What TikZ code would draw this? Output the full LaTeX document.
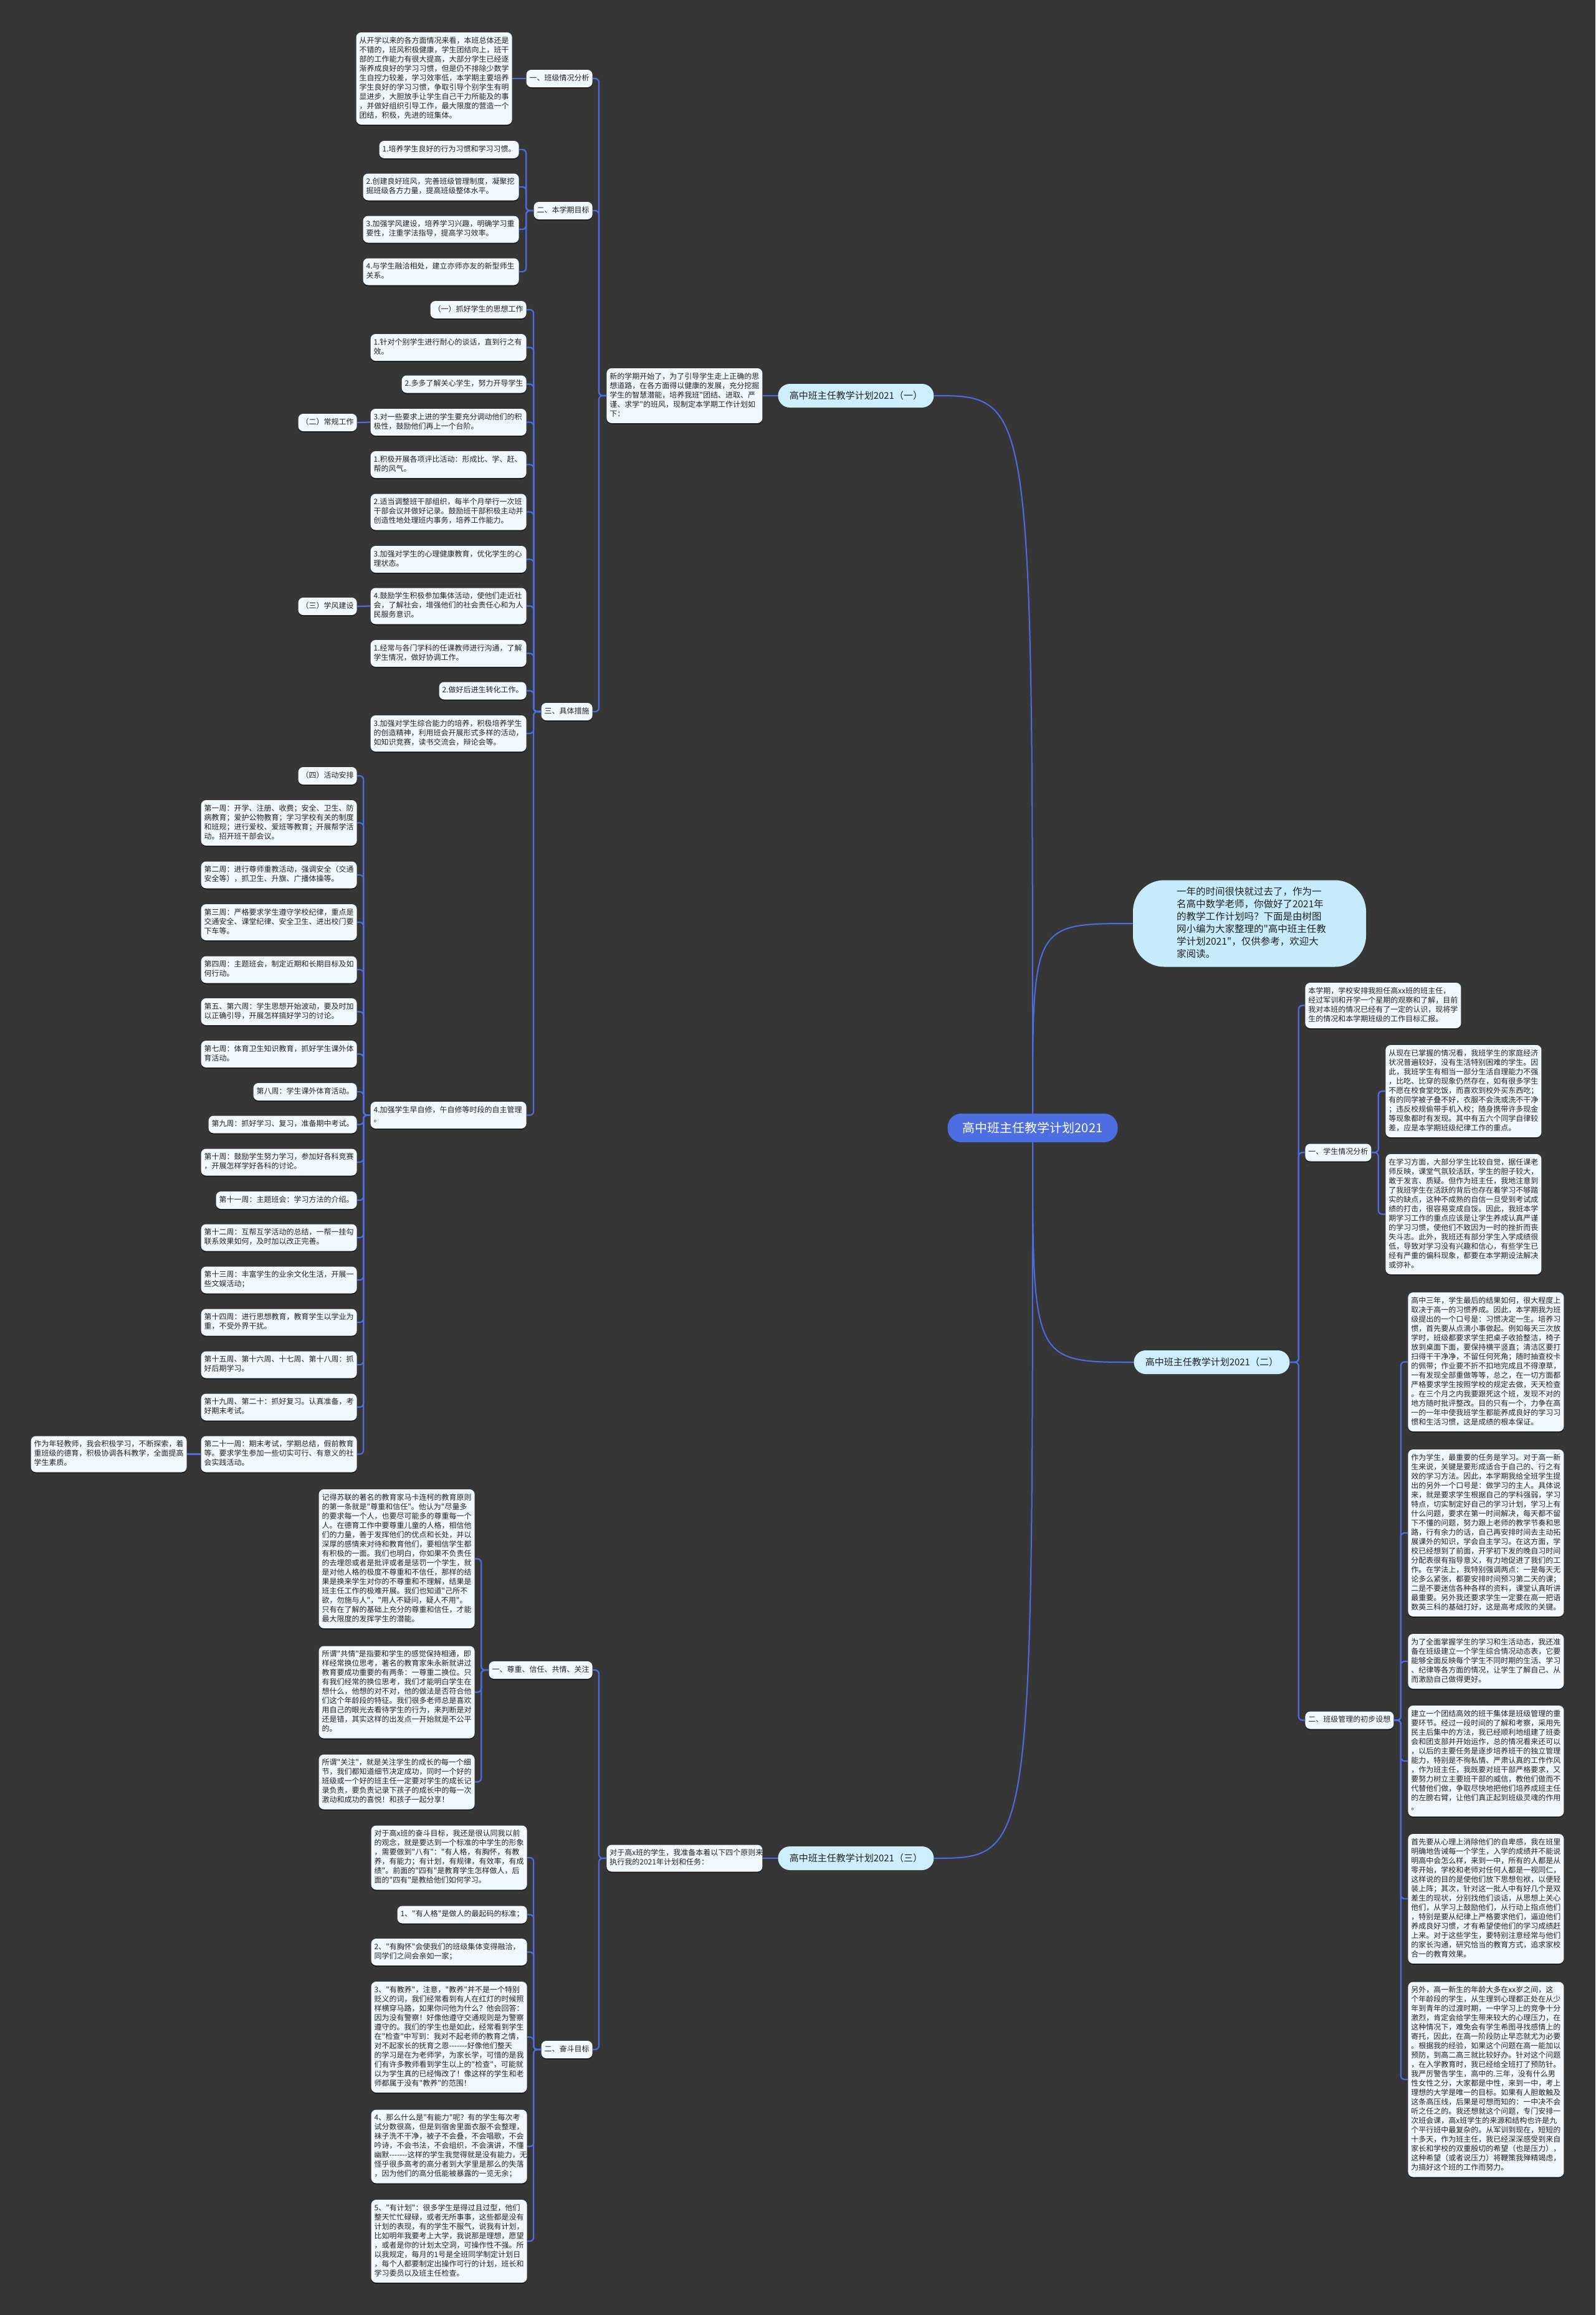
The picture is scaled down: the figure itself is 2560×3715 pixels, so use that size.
\documentclass[tikz,border=0pt]{standalone}
\usepackage{fontspec}
\newfontfamily\cjk{Noto Sans CJK SC}
\usetikzlibrary{shadows}
\definecolor{bgc}{RGB}{54,54,54}
\definecolor{linec}{RGB}{78,108,226}
\definecolor{boxc}{RGB}{240,250,254}
\definecolor{lvc}{RGB}{205,238,253}
\definecolor{introc}{RGB}{198,236,252}
\definecolor{rootc}{RGB}{76,110,224}
\definecolor{txtc}{RGB}{34,34,34}
\tikzset{
 base/.style={font=\cjk\fontsize{6}{7.5}\selectfont, text=txtc, fill=boxc, rounded corners=4pt,
   inner xsep=2.5pt, inner ysep=3.25pt, execute at begin node=\strut, execute at end node=\strut,
   drop shadow={shadow xshift=0pt, shadow yshift=-0.9pt, opacity=0.55, fill=black}},
 wbox/.style={base, text width=120pt, align=left},
 lbl/.style={base},
 lvone/.style={font=\cjk\fontsize{7.5}{9}\selectfont, text=txtc, fill=lvc, rounded corners=9.5pt,
   minimum height=19pt, minimum width=125pt, inner xsep=6pt},
 rootbox/.style={font=\cjk\fontsize{10}{12}\selectfont, text=white, fill=rootc, rounded corners=11pt,
   minimum height=23pt, minimum width=136.5pt},
 introbox/.style={font=\cjk\fontsize{7.75}{10}\selectfont, text=txtc, fill=introc, rounded corners=25pt,
   text width=117pt, align=left, inner xsep=35pt, inner ysep=4.75pt,
   execute at begin node=\strut, execute at end node=\strut},
 conn/.style={draw=linec, line width=1.1pt, rounded corners=3pt},
 curv/.style={draw=linec, line width=1pt},
}
\begin{document}
\begin{tikzpicture}[x=0.5pt,y=-0.5pt]
\useasboundingbox (0,0) rectangle (2560,3715);
\fill[bgc] (0,0) rectangle (2560,3715);

% ---------- root and level one ----------
\node[rootbox] (root) at (1657,1810) {高中班主任教学计划2021};
\node[introbox] (intro) at (2005,1482) {一年的时间很快就过去了，作为一\\名高中数学老师，你做好了2021年\\的教学工作计划吗？下面是由树图\\网小编为大家整理的"高中班主任教\\学计划2021"，仅供参考，欢迎大\\家阅读。};
\node[lvone, anchor=west] (c1) at (1248,635) {高中班主任教学计划2021（一）};
\node[lvone, anchor=west] (c2) at (1819,2186) {高中班主任教学计划2021（二）};
\node[lvone, anchor=west] (c3) at (1248,2982) {高中班主任教学计划2021（三）};

% ---------- part one ----------
\node[wbox, anchor=west] (L1) at (973,635) {新的学期开始了，为了引导学生走上正确的思\\想道路，在各方面得以健康的发展，充分挖掘\\学生的智慧潜能，培养我班"团结、进取、严\\谨、求学"的班风，现制定本学期工作计划如\\下：};
\node[lbl, anchor=east] (s1) at (951,126) {一、班级情况分析};
\node[lbl, anchor=east] (s2) at (951,338) {二、本学期目标};
\node[lbl, anchor=east] (s3) at (951,1142) {三、具体措施};
\node[wbox, anchor=east] (t1) at (822,126) {从开学以来的各方面情况来看，本班总体还是\\不错的，班风积极健康，学生团结向上，班干\\部的工作能力有很大提高，大部分学生已经逐\\渐养成良好的学习习惯，但是仍不排除少数学\\生自控力较差，学习效率低，本学期主要培养\\学生良好的学习习惯，争取引导个别学生有明\\显进步，大胆放手让学生自己干力所能及的事\\，并做好组织引导工作，最大限度的营造一个\\团结，积极，先进的班集体。};
\node[lbl, anchor=east] (g1) at (833,240) {1.培养学生良好的行为习惯和学习习惯。};
\node[wbox, anchor=east] (g2) at (833,300) {2.创建良好班风，完善班级管理制度，凝聚挖\\掘班级各方力量，提高班级整体水平。};
\node[wbox, anchor=east] (g3) at (833,368) {3.加强学风建设，培养学习兴趣，明确学习重\\要性，注重学法指导，提高学习效率。};
\node[wbox, anchor=east] (g4) at (833,436) {4.与学生融洽相处，建立亦师亦友的新型师生\\关系。};

\node[lbl, anchor=east] (m0) at (845,497) {（一）抓好学生的思想工作};
\node[wbox, anchor=east] (m1) at (845,557.5) {1.针对个别学生进行耐心的谈话，直到行之有\\效。};
\node[lbl, anchor=east] (m2) at (845,616.5) {2.多多了解关心学生，努力开导学生};
\node[wbox, anchor=east] (m3) at (845,677.5) {3.对一些要求上进的学生要充分调动他们的积\\极性，鼓励他们再上一个台阶。};
\node[wbox, anchor=east] (m4) at (845,745.5) {1.积极开展各项评比活动：形成比、学、赶、\\帮的风气。};
\node[wbox, anchor=east] (m5) at (845,821.5) {2.适当调整班干部组织，每半个月举行一次班\\干部会议并做好记录。鼓励班干部积极主动并\\创造性地处理班内事务，培养工作能力。};
\node[wbox, anchor=east] (m6) at (845,897.5) {3.加强对学生的心理健康教育，优化学生的心\\理状态。};
\node[wbox, anchor=east] (m7) at (845,972.5) {4.鼓励学生积极参加集体活动，使他们走近社\\会，了解社会，增强他们的社会责任心和为人\\民服务意识。};
\node[wbox, anchor=east] (m8) at (845,1048.5) {1.经常与各门学科的任课教师进行沟通，了解\\学生情况，做好协调工作。};
\node[lbl, anchor=east] (m9) at (845,1108.5) {2.做好后进生转化工作。};
\node[wbox, anchor=east] (m10) at (845,1177) {3.加强对学生综合能力的培养，积极培养学生\\的创造精神，利用班会开展形式多样的活动，\\如知识竞赛，读书交流会，辩论会等。};
\node[wbox, anchor=east] (m11) at (845,1789.5) {4.加强学生早自修，午自修等时段的自主管理\\。};

\node[lbl, anchor=east] (k2) at (573,678) {（二）常规工作};
\node[lbl, anchor=east] (k3) at (573,973) {（三）学风建设};
\node[lbl, anchor=east] (k4) at (573,1245) {（四）活动安排};

\node[wbox, anchor=east] (w1) at (573,1320.5) {第一周：开学、注册、收费；安全、卫生、防\\病教育；爱护公物教育；学习学校有关的制度\\和班规；进行爱校、爱班等教育；开展帮学活\\动。招开班干部会议。};
\node[wbox, anchor=east] (w2) at (573,1404) {第二周：进行尊师重教活动，强调安全（交通\\安全等），抓卫生、升旗、广播体操等。};
\node[wbox, anchor=east] (w3) at (573,1480) {第三周：严格要求学生遵守学校纪律，重点是\\交通安全、课堂纪律、安全卫生、进出校门要\\下车等。};
\node[wbox, anchor=east] (w4) at (573,1556) {第四周：主题班会，制定近期和长期目标及如\\何行动。};
\node[wbox, anchor=east] (w5) at (573,1623.5) {第五、第六周：学生思想开始波动，要及时加\\以正确引导，开展怎样搞好学习的讨论。};
\node[wbox, anchor=east] (w6) at (573,1691.5) {第七周：体育卫生知识教育，抓好学生课外体\\育活动。};
\node[lbl, anchor=east] (w7) at (573,1752) {第八周：学生课外体育活动。};
\node[lbl, anchor=east] (w8) at (573,1804.5) {第九周：抓好学习、复习，准备期中考试。};
\node[wbox, anchor=east] (w9) at (573,1865) {第十周：鼓励学生努力学习，参加好各科竞赛\\，开展怎样学好各科的讨论。};
\node[lbl, anchor=east] (w10) at (573,1926) {第十一周：主题班会：学习方法的介绍。};
\node[wbox, anchor=east] (w11) at (573,1986) {第十二周：互帮互学活动的总结，一帮一挂勾\\联系效果如何，及时加以改正完善。};
\node[wbox, anchor=east] (w12) at (573,2054) {第十三周：丰富学生的业余文化生活，开展一\\些文娱活动；};
\node[wbox, anchor=east] (w13) at (573,2122) {第十四周：进行思想教育，教育学生以学业为\\重，不受外界干扰。};
\node[wbox, anchor=east] (w14) at (573,2190) {第十五周、第十六周、十七周、第十八周：抓\\好后期学习。};
\node[wbox, anchor=east] (w15) at (573,2258) {第十九周、第二十：抓好复习。认真准备，考\\好期末考试。};
\node[wbox, anchor=east] (w16) at (573,2333.5) {第二十一周：期末考试，学期总结，假前教育\\等。要求学生参加一些切实可行、有意义的社\\会实践活动。};
\node[wbox, anchor=east] (yt) at (300,2333.5) {作为年轻教师，我会积极学习，不断探索，着\\重班级的德育，积极协调各科教学，全面提高\\学生素质。};

% ---------- part three ----------
\node[wbox, anchor=west] (L3) at (973,2982) {对于高x班的学生，我准备本着以下四个原则来\\执行我的2021年计划和任务：};
\node[lbl, anchor=east] (r1) at (951,2680) {一、尊重、信任、共情、关注};
\node[lbl, anchor=east] (r2) at (951,3289) {二、奋斗目标};
\node[wbox, anchor=east] (p1) at (762,2501.5) {记得苏联的著名的教育家马卡连柯的教育原则\\的第一条就是"尊重和信任"。他认为"尽量多\\的要求每一个人，也要尽可能多的尊重每一个\\人。在德育工作中要尊重儿童的人格，相信他\\们的力量，善于发挥他们的优点和长处，并以\\深厚的感情来对待和教育他们，要相信学生都\\有积极的一面。我们也明白，你如果不负责任\\的去埋怨或者是批评或者是惩罚一个学生，就\\是对他人格的极度不尊重和不信任，那样的结\\果是换来学生对你的不尊重和不理解，结果是\\班主任工作的极难开展。我们也知道"己所不\\欲，勿施与人"，"用人不疑问，疑人不用"。\\只有在了解的基础上充分的尊重和信任，才能\\最大限度的发挥学生的潜能。};
\node[wbox, anchor=east] (p2) at (762,2715.5) {所谓"共情"是指要和学生的感觉保持相通，即\\样经常换位思考，著名的教育家朱永新就讲过\\教育要成功重要的有两条：一尊重二换位。只\\有我们经常的换位思考，我们才能明白学生在\\想什么，他想的对不对，他的做法是否符合他\\们这个年龄段的特征。我们很多老师总是喜欢\\用自己的眼光去看待学生的行为，来判断是对\\还是错，其实这样的出发点一开始就是不公平\\的。};
\node[wbox, anchor=east] (p3) at (762,2859.5) {所谓"关注"，就是关注学生的成长的每一个细\\节，我们都知道细节决定成功，同时一个好的\\班级或一个好的班主任一定要对学生的成长记\\录负责，要负责记录下孩子的成长中的每一次\\激动和成功的喜悦！和孩子一起分享！};
\node[wbox, anchor=east] (q0) at (846,2981) {对于高x班的奋斗目标，我还是很认同我以前\\的观念，就是要达到一个标准的中学生的形象\\，需要做到"八有"："有人格，有胸怀，有教\\养，有能力；有计划，有规律，有效率，有成\\绩"。前面的"四有"是教育学生怎样做人，后\\面的"四有"是教给他们如何学习。};
\node[lbl, anchor=east] (q1) at (846,3072.5) {1、"有人格"是做人的最起码的标准；};
\node[wbox, anchor=east] (q2) at (846,3132.5) {2、"有胸怀"会使我们的班级集体变得融洽，\\同学们之间会亲如一家；};
\node[wbox, anchor=east] (q3) at (846,3269) {3、"有教养"，注意，"教养"并不是一个特别\\贬义的词，我们经常看到有人在红灯的时候照\\样横穿马路，如果你问他为什么？他会回答：\\因为没有警察！好像他遵守交通规则是为警察\\遵守的。我们的学生也是如此，经常看到学生\\在"检查"中写到：我对不起老师的教育之情，\\\mbox{对不起家长的抚育之恩-------好像他们整天}\\的学习是在为老师学，为家长学，可惜的是我\\们有许多教师看到学生以上的"检查"，可能就\\以为学生真的已经悔改了！像这样的学生和老\\师都属于没有"教养"的范围！};
\node[wbox, anchor=east] (q4) at (846,3444.5) {4、那么什么是"有能力"呢？有的学生每次考\\试分数很高，但是到宿舍里面衣服不会整理，\\袜子洗不干净，被子不会叠，不会唱歌，不会\\吟诗，不会书法，不会组织，不会演讲，不懂\\\mbox{幽默-------这样的学生我觉得就是没有能力，无}\\怪乎很多高考的高分者到大学里是那么的失落\\，因为他们的高分低能被暴露的一览无余；};
\node[wbox, anchor=east] (q5) at (846,3596.5) {5、"有计划"：很多学生是得过且过型，他们\\整天忙忙碌碌，或者无所事事，这些都是没有\\计划的表现，有的学生不服气，说我有计划，\\比如明年我要考上大学，我说那是理想，愿望\\，或者是你的计划太空洞，可操作性不强。所\\以我规定，每月的1号是全班同学制定计划日\\，每个人都要制定出操作可行的计划，班长和\\学习委员以及班主任检查。};

% ---------- part two (right) ----------
\node[wbox, anchor=west] (n0) at (2094,1613.5) {本学期，学校安排我担任高xx班的班主任，\\经过军训和开学一个星期的观察和了解，目前\\我对本班的情况已经有了一定的认识，现将学\\生的情况和本学期班级的工作目标汇报。};
\node[lbl, anchor=west] (n1) at (2094,1849.5) {一、学生情况分析};
\node[lbl, anchor=west] (n2) at (2094,2760.5) {二、班级管理的初步设想};
\node[wbox, anchor=west] (a1) at (2223,1751) {从现在已掌握的情况看，我班学生的家庭经济\\状况普遍较好，没有生活特别困难的学生。因\\此，我班学生有相当一部分生活自理能力不强\\，比吃、比穿的现象仍然存在，如有很多学生\\不愿在校食堂吃饭，而喜欢到校外买东西吃；\\有的同学被子叠不好，衣服不会洗或洗不干净\\；违反校规偷带手机入校；随身携带许多现金\\等现象都时有发现。其中有五六个同学自律较\\差，应是本学期班级纪律工作的重点。};
\node[wbox, anchor=west] (a2) at (2223,1948.5) {在学习方面，大部分学生比较自觉，据任课老\\师反映，课堂气氛较活跃，学生的胆子较大，\\敢于发言、质疑。但作为班主任，我地注意到\\了我班学生在活跃的背后也存在着学习不够踏\\实的缺点，这种不成熟的自信一旦受到考试成\\绩的打击，很容易变成自馁。因此，我班本学\\期学习工作的重点应该是让学生养成认真严谨\\的学习习惯，使他们不致因为一时的挫折而丧\\失斗志。此外，我班还有部分学生入学成绩很\\低，导致对学习没有兴趣和信心，有些学生已\\经有严重的偏科现象，都要在本学期设法解决\\或弥补。};
\node[wbox, anchor=west] (b1) at (2259,2185.5) {高中三年，学生最后的结果如何，很大程度上\\取决于高一的习惯养成。因此，本学期我为班\\级提出的一个口号是：习惯决定一生。培养习\\惯，首先要从点滴小事做起。例如每天三次放\\学时，班级都要求学生把桌子收拾整洁，椅子\\放到桌面下面，要保持横平竖直；清洁区要打\\扫得干干净净，不留任何死角；随时抽查校卡\\的佩带；作业要不折不扣地完成且不得潦草，\\一有发现全部重做等等，总之，在一切方面都\\严格要求学生按照学校的规定去做，天天检查\\。在三个月之内我要跟死这个班，发现不对的\\地方随时批评整改。目的只有一个，力争在高\\一的一年中使我班学生都能养成良好的学习习\\惯和生活习惯，这是成绩的根本保证。};
\node[wbox, anchor=west] (b2) at (2259,2460) {作为学生，最重要的任务是学习。对于高一新\\生来说，关键是要形成适合于自己的、行之有\\效的学习方法。因此，本学期我给全班学生提\\出的另外一个口号是：做学习的主人。具体说\\来，就是要求学生根据自己的学科强弱，学习\\特点，切实制定好自己的学习计划，学习上有\\什么问题，要求在第一时间解决，每天都不留\\下不懂的问题，努力跟上老师的教学节奏和思\\路，行有余力的话，自己再安排时间去主动拓\\展课外的知识，学会自主学习。在这方面，学\\校已经想到了前面，开学初下发的晚自习时间\\分配表很有指导意义，有力地促进了我们的工\\作。在学法上，我特别强调两点：一是每天无\\论多么紧张，都要安排时间预习第二天的课；\\二是不要迷信各种各样的资料，课堂认真听讲\\最重要。另外我还要求学生一定要在高一把语\\数英三科的基础打好，这是高考成败的关键。};
\node[wbox, anchor=west] (b3) at (2259,2666) {为了全面掌握学生的学习和生活动态，我还准\\备在班级建立一个学生综合情况动态表，它要\\能够全面反映每个学生不同时期的生活、学习\\、纪律等各方面的情况，让学生了解自己、从\\而激励自己做得更好。};
\node[wbox, anchor=west] (b4) at (2259,2826) {建立一个团结高效的班干集体是班级管理的重\\要环节。经过一段时间的了解和考察，采用先\\民主后集中的方法，我已经顺利地组建了班委\\会和团支部并开始运作，总的情况看来还可以\\，以后的主要任务是逐步培养班干的独立管理\\能力，特别是不徇私情、严肃认真的工作作风\\，作为班主任，我既要对班干部严格要求，又\\要努力树立主要班干部的威信，教他们做而不\\代替他们做，争取尽快地把他们培养成班主任\\的左膀右臂，让他们真正起到班级灵魂的作用\\。};
\node[wbox, anchor=west] (b5) at (2259,3047) {首先要从心理上消除他们的自卑感，我在班里\\明确地告诫每一个学生，入学的成绩并不能说\\明高中会怎么样，来到一中，所有的人都是从\\零开始，学校和老师对任何人都是一视同仁，\\这样说的目的是使他们放下思想包袱，以便轻\\装上阵；其次，针对这一批人中有好几个是双\\差生的现状，分别找他们谈话，从思想上关心\\他们，从学习上鼓励他们，从行动上指点他们\\，特别是要从纪律上严格要求他们，逼迫他们\\养成良好习惯，才有希望使他们的学习成绩赶\\上来。对于这些学生，要特别注意经常与他们\\的家长沟通，研究恰当的教育方式，追求家校\\合一的教育效果。};
\node[wbox, anchor=west] (b6) at (2259,3337) {另外，高一新生的年龄大多在xx岁之间，这\\个年龄段的学生，从生理到心理都正处在从少\\年到青年的过渡时期，一中学习上的竞争十分\\激烈，肯定会给学生带来较大的心理压力，在\\这种情况下，难免会有学生希图寻找感情上的\\寄托，因此，在高一阶段防止早恋就尤为必要\\。根据我的经验，如果这个问题在高一能加以\\预防，到高二高三就比较好办。针对这个问题\\，在入学教育时，我已经给全班打了预防针。\\我严厉警告学生，高中的.三年，没有什么男\\性女性之分，大家都是中性，来到一中，考上\\理想的大学是唯一的目标。如果有人胆敢触及\\这条高压线，后果是可想而知的：一中决不会\\听之任之的。我还想就这个问题，专门安排一\\次班会课，高x班学生的来源和结构也许是九\\个平行班中最复杂的。从军训到现在，短短的\\十多天，作为班主任，我已经深深感受到来自\\家长和学校的双重殷切的希望（也是压力），\\这种希望（或者说压力）将鞭策我殚精竭虑，\\为搞好这个班的工作而努力。};

% ---------- connectors ----------
\draw[curv] (root.north) .. controls (root.north |- c1.east) .. (c1.east);
\draw[curv] (root.north) .. controls (root.north |- intro.west) .. (intro.west);
\draw[curv] (root.south) .. controls (root.south |- c2.west) .. (c2.west);
\draw[curv] (root.south) .. controls (root.south |- c3.east) .. (c3.east);

\draw[conn] (c1.west) -- (L1.east);
\foreach \c in {s1,s2,s3} \draw[conn] (L1.west) -- ++(-12,0) |- (\c.east);
\draw[conn] (s1.west) -- (t1.east);
\foreach \c in {g1,g2,g3,g4} \draw[conn] (s2.west) -- ++(-12,0) |- (\c.east);
\foreach \c in {m0,m1,m2,m3,m4,m5,m6,m7,m8,m9,m10,m11} \draw[conn] (s3.west) -- ++(-12,0) |- (\c.east);
\draw[conn] (m3.west) -- (k2.east);
\draw[conn] (m7.west) -- (k3.east);
\foreach \c in {k4,w1,w2,w3,w4,w5,w6,w7,w8,w9,w10,w11,w12,w13,w14,w15,w16} \draw[conn] (m11.west) -- ++(-11,0) |- (\c.east);
\draw[conn] (w16.west) -- (yt.east);

\draw[conn] (c3.west) -- (L3.east);
\foreach \c in {r1,r2} \draw[conn] (L3.west) -- ++(-12,0) |- (\c.east);
\foreach \c in {p1,p2,p3} \draw[conn] (r1.west) -- ++(-12,0) |- (\c.east);
\foreach \c in {q0,q1,q2,q3,q4,q5} \draw[conn] (r2.west) -- ++(-12,0) |- (\c.east);

\foreach \c in {n0,n1,n2} \draw[conn] (c2.east) -- ++(14,0) |- (\c.west);
\foreach \c in {a1,a2} \draw[conn] (n1.east) -- ++(11,0) |- (\c.west);
\foreach \c in {b1,b2,b3,b4,b5,b6} \draw[conn] (n2.east) -- ++(11,0) |- (\c.west);
\end{tikzpicture}
\end{document}
